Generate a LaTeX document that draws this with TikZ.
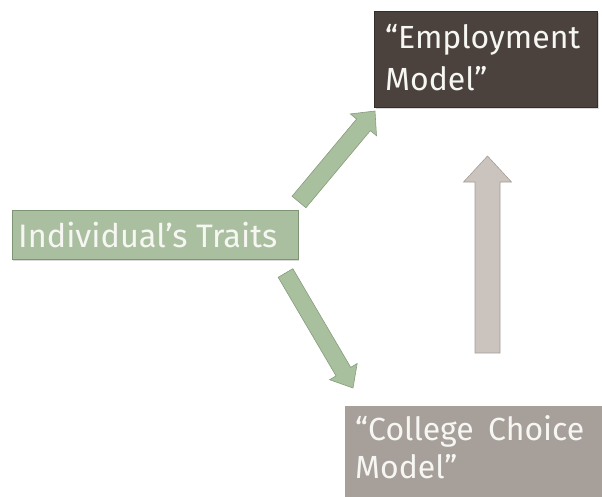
\documentclass[tikz,border=0pt]{standalone}
\usepackage{fontspec}
\setmainfont{Fira Sans}
\usetikzlibrary{calc,shadows}

\definecolor{empfill}{HTML}{4B423D}
\definecolor{empline}{HTML}{342D29}
\definecolor{traitfill}{HTML}{A9BFA0}
\definecolor{traitline}{HTML}{7E9575}
\definecolor{collfill}{HTML}{A79F99}
\definecolor{uparrow}{HTML}{CBC3BD}
\definecolor{upline}{HTML}{A69D97}
\definecolor{garrow}{HTML}{A9C09F}
\definecolor{gline}{HTML}{869C7D}
\definecolor{textwhite}{HTML}{F6F6F2}

% block arrow: style, tail, tip, shaft half width, head half width, head length
\newcommand{\blockarrow}[6]{%
  \path ($(#3)!#6!(#2)$) coordinate (hb);
  \draw[#1] ($(#2)!#4!90:(#3)$) -- ($(hb)!#4!90:(#3)$) -- ($(hb)!#5!90:(#3)$)
    -- (#3) -- ($(hb)!#5!-90:(#3)$) -- ($(hb)!#4!-90:(#3)$)
    -- ($(#2)!#4!-90:(#3)$) -- cycle;
}

\tikzset{
  box/.style={rectangle, inner sep=0pt, anchor=north west,
    drop shadow={opacity=0.3, shadow xshift=1pt, shadow yshift=-1.5pt}},
  boxtext/.style={anchor=base west, inner sep=0pt, align=left, text=textwhite},
  greenarrow/.style={fill=garrow, draw=gline, line width=0.6pt, line join=miter},
  greyarrow/.style={fill=uparrow, draw=upline, line width=0.6pt},
}

\begin{document}
\begin{tikzpicture}[x=1pt,y=-1pt]
\useasboundingbox (0,0) rectangle (602,496);
\clip (0,0) rectangle (602,496);

% boxes
\node[box, fill=empfill, draw=empline, line width=1pt,
  minimum width=223pt, minimum height=96pt] (emp) at (374,11) {};
\node[box, fill=traitfill, draw=traitline, line width=0.6pt,
  minimum width=286pt, minimum height=49pt] (trait) at (12,210) {};
\node[box, fill=collfill, draw=collfill,
  minimum width=270pt, minimum height=100pt] (coll) at (345,406) {};

% labels (anchored on the baseline of the last line)
\node[boxtext, font=\fontsize{32}{42}\selectfont] (empt) at (385,90)
  {“Employment\\Model”};
\node[boxtext, font=\fontsize{32.5}{40}\selectfont] (traitt) at (18,247)
  {Individual’s Traits};
\node[boxtext, font=\fontsize{32}{38}\selectfont] (collt) at (355,478)
  {“College\hspace{0.45em}Choice\\Model”};

% arrow end points
\coordinate (t1) at (299,202);
\coordinate (p1) at (375,111);
\coordinate (t2) at (285.5,273);
\coordinate (p2) at (353,388);
\coordinate (t3) at (487.5,353);
\coordinate (p3) at (487.5,156);

\blockarrow{greenarrow}{t1}{p1}{9pt}{17pt}{18pt}
\blockarrow{greenarrow}{t2}{p2}{8.5pt}{16pt}{19pt}
\blockarrow{greyarrow}{t3}{p3}{12.5pt}{24pt}{26pt}
\end{tikzpicture}
\end{document}
